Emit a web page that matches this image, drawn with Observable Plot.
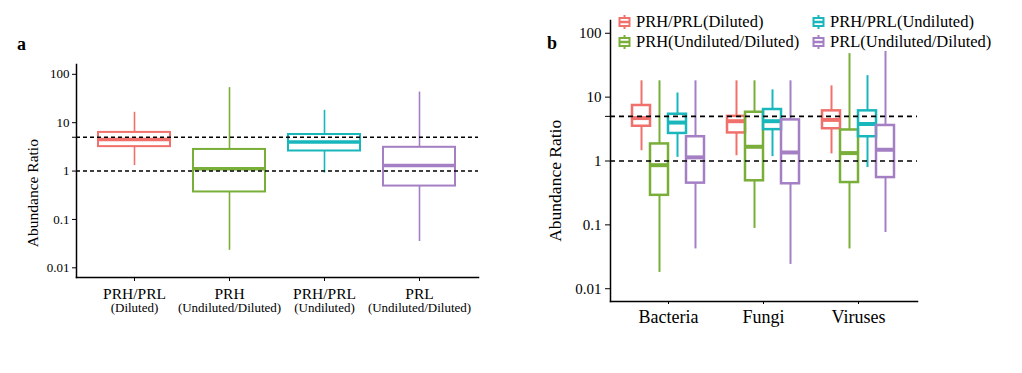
<!DOCTYPE html>
<html>
<head>
<meta charset="utf-8">
<script src="https://cdn.jsdelivr.net/npm/d3@7"></script>
<script src="https://cdn.jsdelivr.net/npm/@observablehq/plot@0.6"></script>
<style>
  body { margin: 0; background: #fff; }
  #wrap { position: relative; width: 1022px; height: 373px; font-family: "Liberation Serif", serif; }
  #wrap svg, #wrap svg text { font-family: "Liberation Serif", serif !important; }
  #pa, #pb { position: absolute; top: 0; }
  #pa { left: 0; }
  #pb { left: 520px; }
  .plab { position: absolute; font-weight: bold; font-size: 18px; line-height: 1; }
  .leg { position: absolute; font-size: 16.5px; line-height: 1; display: flex; align-items: center; white-space: nowrap; }
  .leg svg { margin-right: 5px; }
</style>
</head>
<body>
<div id="wrap">
  <div id="pa"></div>
  <div id="pb"></div>
  <div class="plab" style="left:17px; top:35px;">a</div>
  <div class="plab" style="left:547px; top:34px;">b</div>
  <div id="legend"></div>
</div>
<script>
// ---------- data ----------
const seriesNames = ["PRH/PRL(Diluted)", "PRH(Undiluted/Diluted)", "PRH/PRL(Undiluted)", "PRL(Undiluted/Diluted)"];
const seriesColors = ["#F0716C", "#79AE38", "#19B7BC", "#A47FC4"];

// Panel a
const labelLine1A = ["PRH/PRL", "PRH", "PRH/PRL", "PRL"];
const labelLine2A = ["(Diluted)", "(Undiluted/Diluted)", "(Undiluted)", "(Undiluted/Diluted)"];
const lowA    = [1.3, 0.023, 0.91, 0.035];
const q1A     = [3.2, 0.37, 2.6, 0.49];
const medA    = [4.5, 1.12, 4.0, 1.3];
const q3A     = [6.3, 2.8, 5.7, 3.1];
const highA   = [16.4, 53, 18, 43];

// Panel b
const groupsB = ["Bacteria", "Fungi", "Viruses"];
// per series: [Bacteria, Fungi, Viruses]
const lowB  = [[1.45, 1.21, 1.29], [0.018, 0.088, 0.042], [1.14, 1.17, 0.79], [0.042, 0.024, 0.076]];
const q1B   = [[3.5, 2.75, 3.2],   [0.29, 0.49, 0.46],    [2.7, 3.1, 2.4],    [0.45, 0.44, 0.55]];
const medB  = [[4.7, 4.2, 4.4],    [0.86, 1.67, 1.33],    [4.0, 4.2, 3.8],    [1.14, 1.36, 1.5]];
const q3B   = [[7.4, 5.0, 6.1],    [1.85, 5.8, 3.06],     [5.4, 6.4, 6.1],    [2.4, 4.4, 3.6]];
const highB = [[18, 18, 15],       [18, 18, 48],          [11.6, 13, 21.7],   [18, 18, 52]];

const yTicks = [0.01, 0.1, 1, 5, 10, 100];
const refLines = [1, 5];
const yTitle = "Abundance Ratio";

// ---------- panel a ----------
const dataA = seriesNames.map((s, i) => ({
  key: s, lo: lowA[i], q1: q1A[i], med: medA[i], q3: q3A[i], hi: highA[i],
  l1: labelLine1A[i], l2: labelLine2A[i]
}));
const font = "'Liberation Serif', serif";
const yDomain = [Math.pow(10, -2.2), Math.pow(10, 2.203)];

const plotA = Plot.plot({
  width: 500, height: 340,
  marginLeft: 76, marginRight: 22, marginTop: 64, marginBottom: 63,
  style: {fontFamily: font, fontSize: "12px", color: "black", background: "white"},
  x: {type: "band", domain: seriesNames, paddingInner: 0.24, paddingOuter: 0.214, label: null},
  y: {type: "log", domain: yDomain, label: null},
  color: {domain: seriesNames, range: seriesColors},
  marks: [
    Plot.axisY({ticks: yTicks, tickFormat: d => String(d), tickSize: 4, tickPadding: 3, fontSize: 13, fontFamily: font, label: null}),
    Plot.axisX({tickSize: 4, tickPadding: 6, fontSize: 15.5, fontFamily: font, tickFormat: d => labelLine1A[seriesNames.indexOf(d)], label: null}),
    Plot.text(dataA, {x: "key", text: "l2", frameAnchor: "bottom", dy: 34, fontSize: 13, fontFamily: font}),
    Plot.text([yTitle], {y: [0.35], frameAnchor: "left", textAnchor: "middle", dx: -43, rotate: -90, fontSize: 15.5, fontFamily: font, text: d => d}),
    Plot.ruleX(dataA, {x: "key", y1: "lo", y2: "q1", stroke: "key", strokeWidth: 1.6}),
    Plot.ruleX(dataA, {x: "key", y1: "q3", y2: "hi", stroke: "key", strokeWidth: 1.6}),
    Plot.barY(dataA, {x: "key", y1: "q1", y2: "q3", fill: "none", stroke: "key", strokeWidth: 2}),
    Plot.tickY(dataA, {x: "key", y: "med", stroke: "key", strokeWidth: 3.5}),
    Plot.ruleY(refLines, {stroke: "black", strokeWidth: 1.6, strokeDasharray: "4,3"}),
    Plot.frame({anchor: "left", stroke: "black", strokeWidth: 1.5}),
    Plot.frame({anchor: "bottom", stroke: "black", strokeWidth: 1.5})
  ]
});
document.getElementById("pa").appendChild(plotA);

// ---------- panel b ----------
const dataB = [];
seriesNames.forEach((s, si) => {
  groupsB.forEach((g, gi) => {
    dataB.push({series: s, si, group: g,
      lo: lowB[si][gi], q1: q1B[si][gi], med: medB[si][gi], q3: q3B[si][gi], hi: highB[si][gi]});
  });
});
const bandHalf = 37.5;
const offsets = [-27, -9, 9, 27];
const boxHalf = 9.5;
const marksB = [];
seriesNames.forEach((s, si) => {
  const d = dataB.filter(r => r.si === si);
  const off = offsets[si];
  const inL = bandHalf + off - boxHalf, inR = bandHalf - off - boxHalf;
  marksB.push(
    Plot.ruleX(d, {x: "group", y1: "lo", y2: "q1", dx: off, stroke: "series", strokeWidth: 2}),
    Plot.ruleX(d, {x: "group", y1: "q3", y2: "hi", dx: off, stroke: "series", strokeWidth: 2}),
    Plot.barY(d, {x: "group", y1: "q1", y2: "q3", insetLeft: inL, insetRight: inR, fill: "none", stroke: "series", strokeWidth: 2.5}),
    Plot.tickY(d, {x: "group", y: "med", insetLeft: inL, insetRight: inR, stroke: "series", strokeWidth: 4})
  );
});

const plotB = Plot.plot({
  width: 502, height: 340,
  marginLeft: 90, marginRight: 105, marginTop: 20, marginBottom: 39,
  style: {fontFamily: font, fontSize: "14px", color: "black", background: "white"},
  x: {type: "band", domain: groupsB, paddingInner: 0.217, paddingOuter: 0.2085, label: null},
  y: {type: "log", domain: [Math.pow(10, -2.2), Math.pow(10, 2.2)], label: null},
  color: {domain: seriesNames, range: seriesColors},
  marks: [
    Plot.axisY({ticks: yTicks, tickFormat: d => String(d), tickSize: 5, tickPadding: 4, fontSize: 15, fontFamily: font, label: null}),
    Plot.axisX({tickSize: 3, tickPadding: 6, fontSize: 18, fontFamily: font, label: null}),
    Plot.text([yTitle], {y: [0.49], frameAnchor: "left", textAnchor: "middle", dx: -55, rotate: -90, fontSize: 17.5, fontFamily: font, text: d => d}),
    ...marksB,
    Plot.ruleY(refLines, {stroke: "black", strokeWidth: 1.6, strokeDasharray: "5,4"}),
    Plot.frame({anchor: "left", stroke: "black", strokeWidth: 1.5}),
    Plot.frame({anchor: "bottom", stroke: "black", strokeWidth: 1.5})
  ]
});
document.getElementById("pb").appendChild(plotB);

// ---------- legend ----------
const legPos = [[618, 14], [618, 34], [812, 14], [812, 34]];
const leg = document.getElementById("legend");
seriesNames.forEach((s, i) => {
  const c = seriesColors[i];
  const div = document.createElement("div");
  div.className = "leg";
  div.style.left = legPos[i][0] + "px";
  div.style.top = legPos[i][1] + "px";
  div.innerHTML = `<svg width="13" height="14" viewBox="0 0 13 14">
    <line x1="6.5" y1="0" x2="6.5" y2="14" stroke="${c}" stroke-width="2"/>
    <rect x="1.5" y="3" width="10" height="8" fill="white" stroke="${c}" stroke-width="2"/>
    <line x1="1.5" y1="7" x2="11.5" y2="7" stroke="${c}" stroke-width="2.5"/>
  </svg><span>${s}</span>`;
  leg.appendChild(div);
});
</script>
</body>
</html>
